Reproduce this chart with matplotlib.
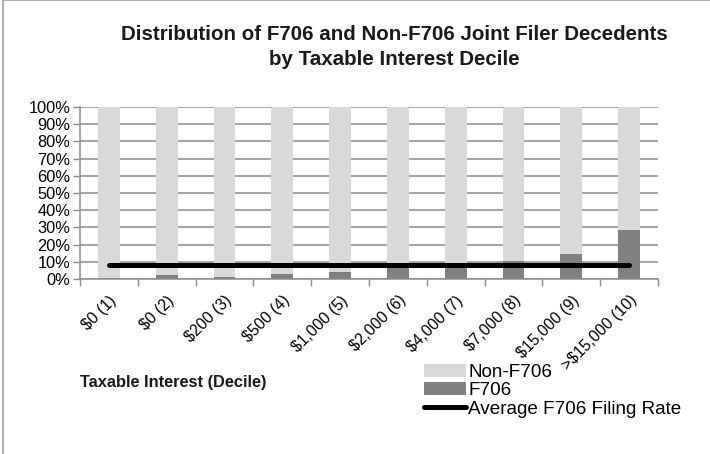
import matplotlib.pyplot as plt
from matplotlib.patches import Patch
from matplotlib.lines import Line2D
import numpy as np

plt.rcParams['font.family'] = ['Liberation Sans', 'DejaVu Sans']

# Data (percent of decedents in each decile)
categories = ['$0 (1)', '$0 (2)', '$200 (3)', '$500 (4)', '$1,000 (5)',
              '$2,000 (6)', '$4,000 (7)', '$7,000 (8)', '$15,000 (9)', '>$15,000 (10)']
f706 = [0.5, 2.3, 1.0, 3.0, 4.3, 7.5, 7.5, 10.2, 14.4, 28.6]
non_f706 = [100 - v for v in f706]
avg_rate = [8.0] * len(categories)

light = '#d9d9d9'
dark = '#808080'
grid_col = '#8c8c8c'

fig = plt.figure(figsize=(7.1, 4.54), dpi=100)
ax = fig.add_axes([80/710, 1 - 279/454, 578/710, 172/454])

x = np.arange(len(categories))
ax.bar(x, f706, width=0.38, color=dark, zorder=2)
ax.bar(x, non_f706, width=0.38, bottom=f706, color=light, zorder=2)
ax.plot(x, avg_rate, color='black', linewidth=3.6, solid_capstyle='round', zorder=3)

ax.set_xlim(-0.5, 9.5)
ax.set_ylim(0, 100)
ax.set_yticks(np.arange(0, 101, 10))
ax.set_yticklabels([f'{v}%' for v in range(0, 101, 10)], fontsize=11.8)
ax.yaxis.grid(True, color=grid_col, linewidth=1.1, zorder=0)
ax.set_axisbelow(True)

ax.set_xticks(x)
ax.set_xticklabels(categories, rotation=45, ha='right', rotation_mode='anchor', fontsize=11.3)
ax.tick_params(axis='x', length=0, pad=10)
ax.set_xticks(np.arange(-0.5, 10, 1), minor=True)
ax.tick_params(axis='x', which='minor', length=5, color=grid_col, width=1)
ax.tick_params(axis='y', length=5, color=grid_col, width=1, pad=2)

for s in ['top', 'right']:
    ax.spines[s].set_visible(False)
for s in ['left', 'bottom']:
    ax.spines[s].set_color(grid_col)
    ax.spines[s].set_linewidth(1.1)

fig.text(0.555, 1 - 47/454, 'Distribution of F706 and Non-F706 Joint Filer Decedents\nby Taxable Interest Decile',
         ha='center', va='center', fontsize=14.8, fontweight='bold', color='#1a1a1a', linespacing=1.45)

fig.text(80/710, 1 - 383/454, 'Taxable Interest (Decile)', ha='left', va='center',
         fontsize=11.8, fontweight='bold', color='#1a1a1a')

handles = [Patch(facecolor=light, edgecolor='none'),
           Patch(facecolor=dark, edgecolor='none'),
           Line2D([0], [0], color='black', linewidth=3.6, solid_capstyle='round')]
labels = ['Non-F706', 'F706', 'Average F706 Filing Rate']
fig.legend(handles, labels, loc='upper left', bbox_to_anchor=(424/710, 1 - 364/454),
           frameon=False, fontsize=13.6, handlelength=2.2, handleheight=0.7,
           handletextpad=0.15, labelspacing=0.05, borderpad=0, borderaxespad=0)

# chart border (left and top)
fig.add_artist(Line2D([3/710, 3/710], [0, 1], color='#a0a0a0', linewidth=1.2))
fig.add_artist(Line2D([3/710, 1], [0.999, 0.999], color='#a0a0a0', linewidth=1.2))

fig.savefig('out.png', dpi=100)
